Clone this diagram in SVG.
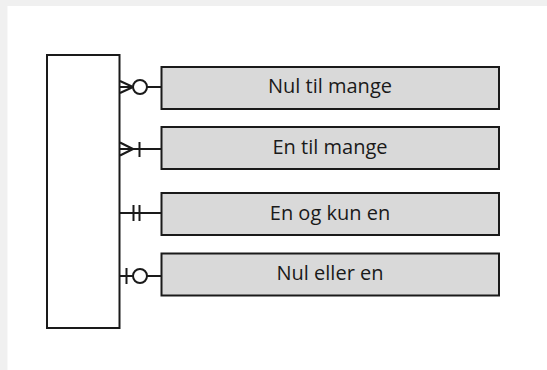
<svg xmlns="http://www.w3.org/2000/svg" width="547" height="370" viewBox="0 0 547 370">
<style>
.ln{stroke:#1a1a1a;stroke-width:2;fill:none}
.box{fill:#d9d9d9;stroke:#1a1a1a;stroke-width:2}
.lbl{font-family:"Open Sans","Liberation Sans",sans-serif;font-size:20px;fill:#1a1a1a;text-anchor:middle}
.circ{fill:#ffffff;stroke:#1a1a1a;stroke-width:2}
</style>
<rect x="0" y="0" width="547" height="370" fill="#f0f0f0"/>
<rect x="7.5" y="6" width="539.5" height="364" fill="#ffffff"/>
<g id="entity">
<rect x="47" y="55" width="72.5" height="273" fill="#ffffff" stroke="#1a1a1a" stroke-width="2"/>
</g>
<g id="nul-til-mange">
<rect class="box" x="161.5" y="67" width="337.5" height="42"/>
<text class="lbl" x="330" y="93">Nul til mange</text>
</g>
<g id="en-til-mange">
<rect class="box" x="161.5" y="127" width="337.5" height="42"/>
<text class="lbl" x="330" y="154">En til mange</text>
</g>
<g id="en-og-kun-en">
<rect class="box" x="161.5" y="193" width="337.5" height="42"/>
<text class="lbl" x="330" y="220">En og kun en</text>
</g>
<g id="nul-eller-en">
<rect class="box" x="161.5" y="253.5" width="337.5" height="42"/>
<text class="lbl" x="330" y="280">Nul eller en</text>
</g>
<g id="connectors">
<!-- zero to many -->
<path class="ln" d="M120 81 L133 87 M120 87 L133 87 M120 93 L133 87 M147 87 L161 87"/>
<circle class="circ" cx="140" cy="87" r="7"/>
<!-- one to many -->
<path class="ln" d="M120 142.5 L133 149 M120 155.5 L133 149 M120 149 L161 149 M139.5 142 L139.5 157"/>
<!-- one and only one -->
<path class="ln" d="M120 213 L161 213 M133.5 205 L133.5 221 M139.5 205 L139.5 221"/>
<!-- zero or one -->
<path class="ln" d="M120 276 L133 276 M147 276 L161 276 M126.5 268 L126.5 284"/>
<circle class="circ" cx="140" cy="276" r="7"/>
</g>
</svg>
